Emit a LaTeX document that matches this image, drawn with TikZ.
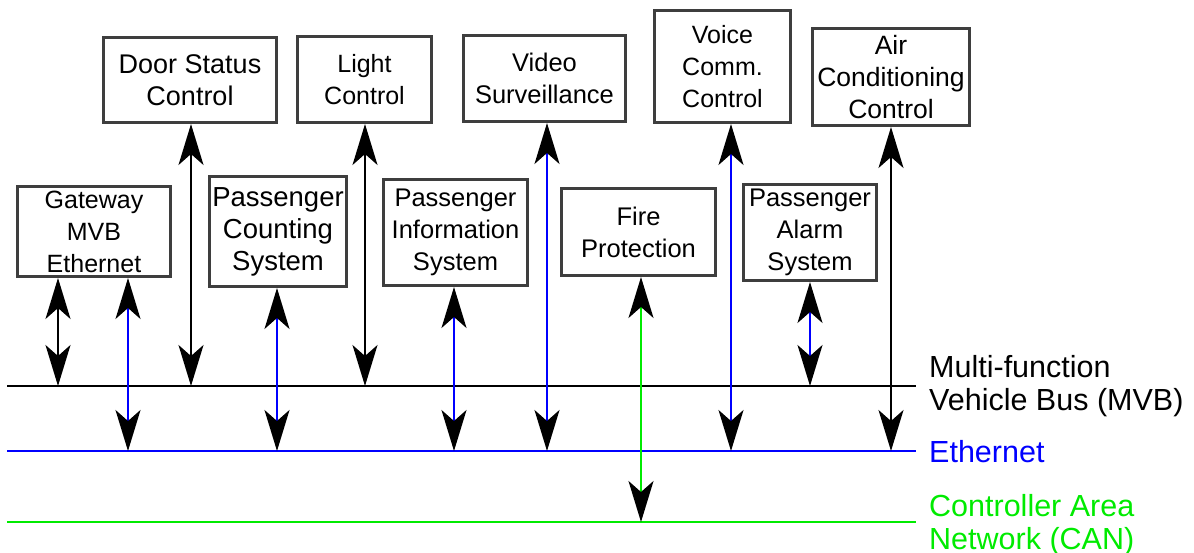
\documentclass[tikz,border=0pt]{standalone}
\usepackage{fontspec}
\setmainfont{Liberation Sans}
\usetikzlibrary{arrows.meta}
\definecolor{ethblue}{RGB}{0,0,255}
\definecolor{cangreen}{RGB}{0,235,0}
\definecolor{boxgray}{RGB}{62,62,62}
\newcommand\unitsize[1]{\fontsize{#1}{32}\selectfont}
\begin{document}
\begin{tikzpicture}[x=1pt,y=-1pt,
  unit/.style={draw=boxgray, line width=3pt, fill=white, inner sep=0pt, align=center},
  bus/.style={line width=2pt},
  buslabel/.style={anchor=base west, inner sep=0pt, align=left, font=\fontsize{30.5}{33}\selectfont},
  biarrow/.style={line width=2pt, >={Stealth[length=41pt,width=25pt,inset=11pt,color=black]}, <->}]
\useasboundingbox (0,0) rectangle (1194,553);

% bus lines
\coordinate (mvbL) at (7,386);   \coordinate (mvbR) at (916,386);
\coordinate (ethL) at (7,451);   \coordinate (ethR) at (916,451);
\coordinate (canL) at (7,522);   \coordinate (canR) at (916,522);
\draw[bus, black] (mvbL) -- (mvbR);
\draw[bus, ethblue] (ethL) -- (ethR);
\draw[bus, cangreen] (canL) -- (canR);

% bus labels (anchored on the baseline of their last line)
\node[buslabel, text=black] (mvbText) at (929,410) {Multi-function\\Vehicle Bus (MVB)};
\node[buslabel, text=ethblue] (ethText) at (929,462) {Ethernet};
\node[buslabel, text=cangreen] (canText) at (929,549) {Controller Area\\Network (CAN)};

% subsystem units
\node[unit, minimum width=153, minimum height=90, font=\unitsize{25}] (gw) at (94,231.5) {Gateway\\MVB\\Ethernet};
\node[unit, minimum width=173, minimum height=85, font=\unitsize{27}] (door) at (190,80) {Door Status\\Control};
\node[unit, minimum width=134, minimum height=86, font=\unitsize{25}] (light) at (364.5,79.5) {Light\\Control};
\node[unit, minimum width=162, minimum height=86, font=\unitsize{25.5}] (video) at (544.5,78.5) {Video\\Surveillance};
\node[unit, minimum width=136, minimum height=112, font=\unitsize{25}] (voice) at (722.5,66.5) {Voice\\Comm.\\Control};
\node[unit, minimum width=157, minimum height=97, font=\unitsize{26.5}] (air) at (891,77) {Air\\Conditioning\\Control};
\node[unit, minimum width=137, minimum height=110, font=\unitsize{27.5}] (count) at (278,231.5) {Passenger\\Counting\\System};
\node[unit, minimum width=144, minimum height=106, font=\unitsize{25.5}] (info) at (455.5,232.5) {Passenger\\Information\\System};
\node[unit, minimum width=154, minimum height=87, font=\unitsize{25.5}] (fire) at (638.5,232) {Fire\\Protection};
\node[unit, minimum width=133, minimum height=96, font=\unitsize{25.5}] (alarm) at (810,232.5) {Passenger\\Alarm\\System};

% bus taps
\coordinate (gwM) at (58,386);
\coordinate (gwE) at (128,451);
\coordinate (doorM) at (191,386);
\coordinate (countE) at (277,451);
\coordinate (lightM) at (365,386);
\coordinate (infoE) at (454,451);
\coordinate (videoE) at (547,451);
\coordinate (fireC) at (641,522);
\coordinate (voiceE) at (731,451);
\coordinate (alarmM) at (810,386);
\coordinate (airE) at (891,451);

% connections
\draw[biarrow, black] (gw.south -| gwM) -- (gwM);
\draw[biarrow, ethblue] (gw.south -| gwE) -- (gwE);
\draw[biarrow, black] (door.south -| doorM) -- (doorM);
\draw[biarrow, ethblue] (count.south -| countE) -- (countE);
\draw[biarrow, black] (light.south -| lightM) -- (lightM);
\draw[biarrow, ethblue] (info.south -| infoE) -- (infoE);
\draw[biarrow, ethblue] (video.south -| videoE) -- (videoE);
\draw[biarrow, cangreen] (fire.south -| fireC) -- (fireC);
\draw[biarrow, ethblue] (voice.south -| voiceE) -- (voiceE);
\draw[biarrow, ethblue] (alarm.south -| alarmM) -- (alarmM);
\draw[biarrow, black] (air.south -| airE) -- (airE);
\end{tikzpicture}
\end{document}
